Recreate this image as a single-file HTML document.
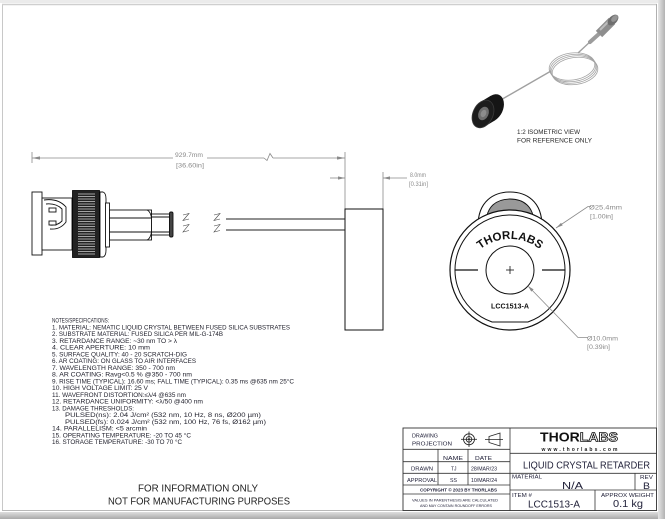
<!DOCTYPE html>
<html><head><meta charset="utf-8">
<style>
html,body{margin:0;padding:0;background:#fff;}
svg{display:block;}
text{font-family:"Liberation Sans",sans-serif;}
</style></head><body>
<svg width="665" height="519" viewBox="0 0 665 519" xmlns="http://www.w3.org/2000/svg">
<defs>
<linearGradient id="gr" x1="0" x2="1" y1="0" y2="0"><stop offset="0" stop-color="#e6e6e6"/><stop offset="1" stop-color="#b2b2b2"/></linearGradient>
<linearGradient id="gb" x1="0" x2="0" y1="0" y2="1"><stop offset="0" stop-color="#dedede"/><stop offset="1" stop-color="#a9a9a9"/></linearGradient>
</defs>

<!-- page frame -->
<rect x="0" y="0" width="665" height="3" fill="#ebebeb"/>
<rect x="0" y="512" width="665" height="7" fill="url(#gb)"/>
<rect x="658" y="0" width="7" height="519" fill="url(#gr)"/>
<line x1="2.5" y1="4" x2="2.5" y2="511" stroke="#c8c8c8" stroke-width="1"/>
<line x1="2" y1="4.5" x2="657" y2="4.5" stroke="#cfcfcf" stroke-width="1.5"/>
<line x1="656.5" y1="4" x2="656.5" y2="511" stroke="#b0b0b0" stroke-width="1"/>
<line x1="2" y1="510.5" x2="657" y2="510.5" stroke="#b8b8b8" stroke-width="1"/>

<!-- ===== Isometric view ===== -->
<g fill="none" stroke="#a3a3a3" stroke-width="0.8">
  <ellipse cx="572" cy="66.5" rx="23" ry="13.5" transform="rotate(-8 572 66.5)"/>
  <ellipse cx="573" cy="68" rx="23" ry="13.5" transform="rotate(-8 573 68)"/>
  <ellipse cx="574" cy="69.5" rx="23" ry="13.5" transform="rotate(-8 574 69.5)"/>
  <ellipse cx="575" cy="71" rx="23" ry="13.5" transform="rotate(-8 575 71)"/>
</g>
<line x1="499" y1="101" x2="551" y2="71" stroke="#a0a0a0" stroke-width="1.4"/>
<line x1="578" y1="53" x2="592" y2="40" stroke="#a0a0a0" stroke-width="1.4"/>
<line x1="590" y1="42" x2="600" y2="33" stroke="#9c9c9c" stroke-width="4" stroke-linecap="round"/>
<line x1="599" y1="34" x2="612" y2="21" stroke="#8e8e8e" stroke-width="9"/>
<line x1="600" y1="30" x2="610" y2="20" stroke="#bdbdbd" stroke-width="2"/>
<ellipse cx="613" cy="20" rx="4" ry="6.5" transform="rotate(45 613 20)" fill="#6e6e6e"/>
<ellipse cx="614.5" cy="18.5" rx="2.5" ry="4" transform="rotate(45 614.5 18.5)" fill="#959595"/>
<!-- ring -->
<ellipse cx="493" cy="108" rx="10" ry="14.5" transform="rotate(25 493 108)" fill="#151515"/>
<polygon points="480.8,101.8 490.8,95.8 495.2,120.2 485.2,126.2" fill="#151515"/>
<ellipse cx="483" cy="114" rx="10" ry="14.5" transform="rotate(25 483 114)" fill="#1c1c1c" stroke="#3a3a3a" stroke-width="0.8"/>
<ellipse cx="483.5" cy="113.5" rx="5" ry="7" transform="rotate(25 483.5 113.5)" fill="#6e6e6e"/>
<ellipse cx="483.5" cy="113.5" rx="2.6" ry="3.8" transform="rotate(25 483.5 113.5)" fill="#8c8c8c"/>
<text x="517" y="134" font-size="6.4" fill="#2a2a2a" textLength="63" lengthAdjust="spacingAndGlyphs">1:2 ISOMETRIC VIEW</text>
<text x="517" y="142.5" font-size="6.4" fill="#2a2a2a" textLength="75" lengthAdjust="spacingAndGlyphs">FOR REFERENCE ONLY</text>

<!-- ===== Side view dimensions ===== -->
<g stroke="#8a8a8a" stroke-width="0.8" fill="none">
  <line x1="32" y1="158" x2="173" y2="158"/>
  <line x1="207" y1="158" x2="264" y2="158"/>
  <polyline points="264,158 267,160.5 270,153.5 273,158"/>
  <line x1="273" y1="158" x2="345" y2="158"/>
  <line x1="32" y1="152" x2="32" y2="163"/>
  <line x1="345" y1="152" x2="345" y2="209"/>
  <line x1="330" y1="178" x2="345" y2="178"/>
  <line x1="383" y1="178" x2="407" y2="178"/>
  <line x1="383" y1="172" x2="383" y2="209"/>
</g>
<g fill="#8a8a8a">
  <polygon points="32,158 40,156.4 40,159.6"/>
  <polygon points="345,158 337,156.4 337,159.6"/>
  <polygon points="345,178 338,176.4 338,179.6"/>
  <polygon points="383,178 390,176.4 390,179.6"/>
</g>
<g font-size="6.5" fill="#8a8a8a">
  <text x="175" y="157" textLength="28" lengthAdjust="spacingAndGlyphs">929.7mm</text>
  <text x="176" y="167.5" textLength="28" lengthAdjust="spacingAndGlyphs">[36.60in]</text>
  <text x="410" y="177" textLength="16" lengthAdjust="spacingAndGlyphs">8.0mm</text>
  <text x="409" y="186" textLength="19" lengthAdjust="spacingAndGlyphs">[0.31in]</text>
</g>

<!-- LCR head side -->
<rect x="345" y="209" width="38" height="121" fill="#fff" stroke="#111" stroke-width="1"/>
<!-- cable -->
<g stroke="#222" stroke-width="0.9">
  <line x1="226" y1="219" x2="345" y2="219"/>
  <line x1="226" y1="230" x2="345" y2="230"/>
</g>
<g stroke="#444" stroke-width="0.6" fill="none">
  <polyline points="214,215 220,213.5 214,220.5 220,219"/>
  <polyline points="214,226 220,224.5 214,232 220,230.5"/>
  <polyline points="183,215 189,213.5 183,220.5 189,219"/>
  <polyline points="183,226 189,224.5 183,232 189,230.5"/>
</g>

<!-- connector -->
<g stroke="#111" stroke-width="0.9" fill="#fff">
  <rect x="32" y="192" width="10" height="63"/>
  <rect x="42" y="198" width="30" height="52"/>
  <path d="M100,192 L103,192 Q106,193 106,199 L106,250 Q106,256 103,257 L100,257 Z"/>
  <rect x="105.5" y="203" width="4" height="44"/>
  <rect x="109.5" y="210" width="42" height="30"/>
  <line x1="109.5" y1="218" x2="151.5" y2="218"/>
  <line x1="109.5" y1="232" x2="151.5" y2="232"/>
  <path d="M147,210 Q152,212 152,225 Q152,238 147,240" fill="none"/>
  <rect x="151.5" y="214" width="18" height="21"/>
  <line x1="151.5" y1="217" x2="169.5" y2="217"/>
  <line x1="151.5" y1="232" x2="169.5" y2="232"/>
  <rect x="169.5" y="212" width="3.5" height="25" rx="1.5" fill="#444"/>
  <path d="M44,200 Q58,198 66,207 L66,222 Q60,230 50,229" fill="none"/>
  <path d="M46,204 Q56,203 62,209 L62,221 Q57,226 50,225" fill="none"/>
  <rect x="49" y="208" width="7" height="4"/>
  <rect x="49" y="221" width="7" height="4"/>
</g>
<rect x="72.5" y="190.5" width="27" height="67" fill="#222" stroke="#000" stroke-width="0.8"/>
<g stroke="#cfcfcf" stroke-width="0.7">
  <line x1="78" y1="194" x2="95" y2="194"/><line x1="78" y1="196.5" x2="95" y2="196.5"/>
  <line x1="78" y1="199" x2="95" y2="199"/><line x1="78" y1="201.5" x2="95" y2="201.5"/>
  <line x1="78" y1="204" x2="95" y2="204"/><line x1="78" y1="206.5" x2="95" y2="206.5"/>
  <line x1="78" y1="209" x2="95" y2="209"/><line x1="78" y1="211.5" x2="95" y2="211.5"/>
  <line x1="78" y1="214" x2="95" y2="214"/><line x1="78" y1="216.5" x2="95" y2="216.5"/>
  <line x1="78" y1="219" x2="95" y2="219"/><line x1="78" y1="221.5" x2="95" y2="221.5"/>
  <line x1="78" y1="224" x2="95" y2="224"/><line x1="78" y1="226.5" x2="95" y2="226.5"/>
  <line x1="78" y1="229" x2="95" y2="229"/><line x1="78" y1="231.5" x2="95" y2="231.5"/>
  <line x1="78" y1="234" x2="95" y2="234"/><line x1="78" y1="236.5" x2="95" y2="236.5"/>
  <line x1="78" y1="239" x2="95" y2="239"/><line x1="78" y1="241.5" x2="95" y2="241.5"/>
  <line x1="78" y1="244" x2="95" y2="244"/><line x1="78" y1="246.5" x2="95" y2="246.5"/>
  <line x1="78" y1="249" x2="95" y2="249"/><line x1="78" y1="251.5" x2="95" y2="251.5"/>
  <line x1="78" y1="254" x2="95" y2="254"/>
</g>

<!-- ===== Front view ===== -->
<path d="M478,226 C478,201 494,192 510,192 C526,192 542,201 542,226 Z" fill="#fff" stroke="#111" stroke-width="1.1"/>
<path d="M486,224 C486,206 497,199 510,199 C523,199 534,206 534,224 Z" fill="#999" stroke="#111" stroke-width="0.9"/>
<circle cx="510" cy="270" r="60" fill="#fff" stroke="#111" stroke-width="1.2"/>
<path d="M492.1,322 A55,55 0 1 1 527.9,322 Z" fill="#fff" stroke="#111" stroke-width="1"/>
<g stroke="#111" stroke-width="1.3">
  <line x1="455" y1="270" x2="478" y2="270"/>
  <line x1="542" y1="270" x2="565" y2="270"/>
</g>
<circle cx="510" cy="270" r="24" fill="#fff" stroke="#111" stroke-width="1"/>
<g stroke="#111" stroke-width="0.8">
  <line x1="506" y1="270" x2="514" y2="270"/>
  <line x1="510" y1="266" x2="510" y2="274"/>
</g>
<path id="arc" d="M473.2,256.1 A48,48 0 0 1 546.8,256.1" fill="none"/>
<text font-size="11.5" font-weight="bold" fill="#111"><textPath href="#arc" startOffset="50%" text-anchor="middle">THORLABS</textPath></text>
<text x="491" y="308.5" font-size="7" font-weight="bold" fill="#111" textLength="38" lengthAdjust="spacingAndGlyphs">LCC1513-A</text>

<!-- leaders -->
<g stroke="#8a8a8a" stroke-width="0.8" fill="none">
  <polyline points="556,228 588,206.5 591,206.5"/>
  <polyline points="528,286 578,337.5 588,337.5"/>
</g>
<g fill="#8a8a8a">
  <polygon points="556,228 562.7,225.4 561,222.9"/>
  <polygon points="528,286 531.3,291.6 533.6,289.4"/>
</g>
<g font-size="6.5" fill="#8a8a8a">
  <text x="589" y="209.5" textLength="33" lengthAdjust="spacingAndGlyphs">Ø25.4mm</text>
  <text x="590" y="218.5" textLength="23" lengthAdjust="spacingAndGlyphs">[1.00in]</text>
  <text x="587" y="340.5" textLength="31" lengthAdjust="spacingAndGlyphs">Ø10.0mm</text>
  <text x="587" y="349" textLength="23" lengthAdjust="spacingAndGlyphs">[0.39in]</text>
</g>

<!-- ===== Notes ===== -->
<g font-size="6" fill="#1e1e2a">
  <text x="52" y="322.5" textLength="57" lengthAdjust="spacingAndGlyphs">NOTES/SPECIFICATIONS:</text>
  <text x="52" y="329.3" textLength="238" lengthAdjust="spacingAndGlyphs">1. MATERIAL: NEMATIC LIQUID CRYSTAL BETWEEN FUSED SILICA SUBSTRATES</text>
  <text x="52" y="336.0" textLength="171" lengthAdjust="spacingAndGlyphs">2. SUBSTRATE MATERIAL: FUSED SILICA PER MIL-G-174B</text>
  <text x="52" y="342.8" textLength="125" lengthAdjust="spacingAndGlyphs">3. RETARDANCE RANGE: ~30 nm TO &gt; λ</text>
  <text x="52" y="349.5" textLength="98" lengthAdjust="spacingAndGlyphs">4. CLEAR APERTURE: 10 mm</text>
  <text x="52" y="356.3" textLength="135" lengthAdjust="spacingAndGlyphs">5. SURFACE QUALITY: 40 - 20 SCRATCH-DIG</text>
  <text x="52" y="363.1" textLength="144" lengthAdjust="spacingAndGlyphs">6. AR COATING: ON GLASS TO AIR INTERFACES</text>
  <text x="52" y="369.8" textLength="123" lengthAdjust="spacingAndGlyphs">7. WAVELENGTH RANGE: 350 - 700 nm</text>
  <text x="52" y="376.6" textLength="140" lengthAdjust="spacingAndGlyphs">8. AR COATING: Ravg&lt;0.5 % @350 - 700 nm</text>
  <text x="52" y="383.3" textLength="242" lengthAdjust="spacingAndGlyphs">9. RISE TIME (TYPICAL): 16.60 ms; FALL TIME (TYPICAL): 0.35 ms @635 nm 25°C</text>
  <text x="52" y="390.1" textLength="96" lengthAdjust="spacingAndGlyphs">10. HIGH VOLTAGE LIMIT: 25 V</text>
  <text x="52" y="396.9" textLength="134" lengthAdjust="spacingAndGlyphs">11. WAVEFRONT DISTORTION:≤λ/4 @635 nm</text>
  <text x="52" y="403.6" textLength="151" lengthAdjust="spacingAndGlyphs">12. RETARDANCE UNIFORMITY: &lt;λ/50 @400 nm</text>
  <text x="52" y="410.4" textLength="82" lengthAdjust="spacingAndGlyphs">13. DAMAGE THRESHOLDS:</text>
  <text x="65" y="417.1" textLength="196" lengthAdjust="spacingAndGlyphs">PULSED(ns): 2.04 J/cm² (532 nm, 10 Hz, 8 ns, Ø200 µm)</text>
  <text x="65" y="423.9" textLength="201" lengthAdjust="spacingAndGlyphs">PULSED(fs): 0.024 J/cm² (532 nm, 100 Hz, 76 fs, Ø162 µm)</text>
  <text x="52" y="430.7" textLength="95" lengthAdjust="spacingAndGlyphs">14. PARALLELISM: &lt;5 arcmin</text>
  <text x="52" y="437.4" textLength="139" lengthAdjust="spacingAndGlyphs">15. OPERATING TEMPERATURE: -20 TO 45 °C</text>
  <text x="52" y="444.2" textLength="130" lengthAdjust="spacingAndGlyphs">16. STORAGE TEMPERATURE: -30 TO 70 °C</text>
</g>

<g font-size="9.8" fill="#222">
  <text x="138" y="491.5" textLength="120" lengthAdjust="spacingAndGlyphs">FOR INFORMATION ONLY</text>
  <text x="108" y="504.5" textLength="182" lengthAdjust="spacingAndGlyphs">NOT FOR MANUFACTURING PURPOSES</text>
</g>

<!-- ===== Title block ===== -->
<rect x="403" y="428" width="253.5" height="82.5" fill="#fff" stroke="#333" stroke-width="0.9"/>
<g stroke="#333" stroke-width="0.8">
  <line x1="510" y1="428" x2="510" y2="510.5"/>
  <line x1="403" y1="449.3" x2="510" y2="449.3"/>
  <line x1="403" y1="461.7" x2="510" y2="461.7"/>
  <line x1="403" y1="473.3" x2="656.5" y2="473.3"/>
  <line x1="403" y1="485" x2="510" y2="485"/>
  <line x1="403" y1="494" x2="510" y2="494"/>
  <line x1="438" y1="449.3" x2="438" y2="485"/>
  <line x1="468" y1="449.3" x2="468" y2="485"/>
  <line x1="510" y1="453.3" x2="656.5" y2="453.3"/>
  <line x1="510" y1="490" x2="656.5" y2="490"/>
  <line x1="635" y1="473.3" x2="635" y2="490"/>
  <line x1="595" y1="490" x2="595" y2="510.5"/>
</g>
<!-- projection symbols -->
<g stroke="#222" stroke-width="0.8" fill="none">
  <circle cx="469" cy="439.3" r="5.5"/>
  <circle cx="469" cy="439.3" r="2.8"/>
  <line x1="461" y1="439.3" x2="477" y2="439.3"/>
  <line x1="469" y1="431.5" x2="469" y2="447"/>
  <polygon points="489,436.5 500,433 500,446 489,442.5"/>
  <line x1="485" y1="439.5" x2="503" y2="439.5"/>
</g>
<circle cx="469" cy="439.3" r="1" fill="#222"/>

<g fill="#22223a">
  <text x="412" y="437.3" font-size="5.8" textLength="26" lengthAdjust="spacingAndGlyphs">DRAWING</text>
  <text x="412" y="445.3" font-size="5.8" textLength="40" lengthAdjust="spacingAndGlyphs">PROJECTION</text>
  <text x="443" y="460" font-size="5.6" textLength="20" lengthAdjust="spacingAndGlyphs">NAME</text>
  <text x="475" y="460" font-size="5.6" textLength="17" lengthAdjust="spacingAndGlyphs">DATE</text>
  <text x="411" y="470.5" font-size="5.2" textLength="22" lengthAdjust="spacingAndGlyphs">DRAWN</text>
  <text x="451" y="470.5" font-size="5.6" textLength="5.5" lengthAdjust="spacingAndGlyphs">TJ</text>
  <text x="471" y="470.5" font-size="5.6" textLength="26" lengthAdjust="spacingAndGlyphs">28/MAR/23</text>
  <text x="407" y="482" font-size="5.2" textLength="30" lengthAdjust="spacingAndGlyphs">APPROVAL</text>
  <text x="450" y="482" font-size="5.6" textLength="7" lengthAdjust="spacingAndGlyphs">SS</text>
  <text x="471" y="482" font-size="5.6" textLength="26" lengthAdjust="spacingAndGlyphs">10/MAR/24</text>
  <text x="420" y="491.5" font-size="4.3" font-weight="bold" textLength="77" lengthAdjust="spacingAndGlyphs">COPYRIGHT © 2023 BY THORLABS</text>
  <text x="412" y="501.5" font-size="3.8" textLength="86" lengthAdjust="spacingAndGlyphs">VALUES IN PARENTHESIS ARE CALCULATED</text>
  <text x="420" y="507" font-size="3.8" textLength="72" lengthAdjust="spacingAndGlyphs">AND MAY CONTAIN ROUNDOFF ERRORS</text>

  <text x="523" y="468.3" font-size="10.5" textLength="127" lengthAdjust="spacingAndGlyphs">LIQUID CRYSTAL RETARDER</text>
  <text x="512" y="478.6" font-size="5.4" textLength="30" lengthAdjust="spacingAndGlyphs">MATERIAL</text>
  <text x="562" y="489" font-size="10" textLength="21" lengthAdjust="spacingAndGlyphs">N/A</text>
  <text x="640" y="479" font-size="5.4" textLength="13" lengthAdjust="spacingAndGlyphs">REV</text>
  <text x="643" y="489" font-size="9.5" textLength="7" lengthAdjust="spacingAndGlyphs">B</text>
  <text x="512" y="497" font-size="5.4" textLength="20" lengthAdjust="spacingAndGlyphs">ITEM #</text>
  <text x="528" y="507.3" font-size="10.5" textLength="52" lengthAdjust="spacingAndGlyphs">LCC1513-A</text>
  <text x="601" y="497" font-size="5.4" textLength="53" lengthAdjust="spacingAndGlyphs">APPROX WEIGHT</text>
  <text x="613" y="507" font-size="10.5" textLength="30" lengthAdjust="spacingAndGlyphs">0.1 kg</text>
</g>
<!-- logo -->
<text x="540" y="441.7" font-size="13" font-weight="bold" textLength="78" lengthAdjust="spacingAndGlyphs"><tspan fill="#111">THOR</tspan><tspan fill="#fff" stroke="#111" stroke-width="0.8">LABS</tspan></text>
<text x="541.5" y="451" font-size="5" font-weight="bold" fill="#222" textLength="76" lengthAdjust="spacing">www.thorlabs.com</text>
</svg>
</body></html>
